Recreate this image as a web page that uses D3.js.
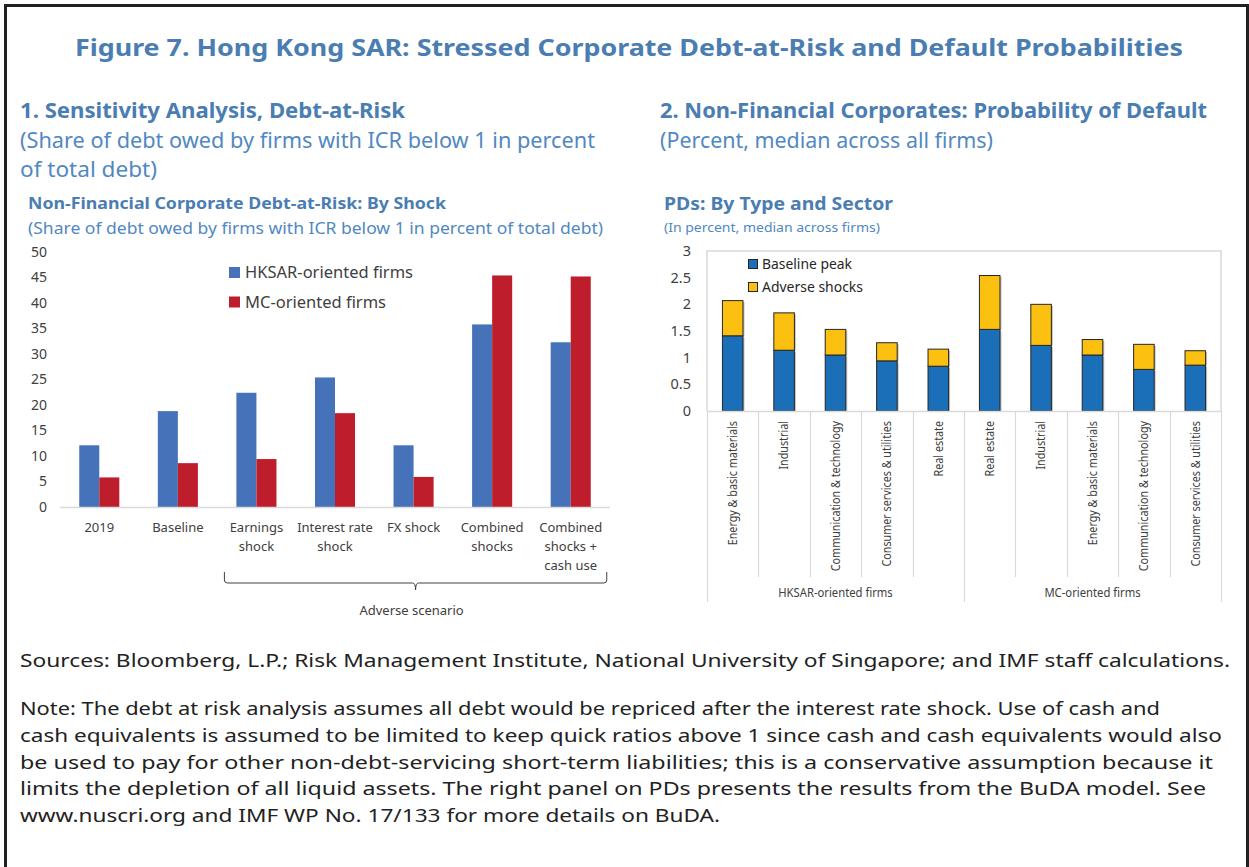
<!DOCTYPE html>
<html>
<head>
<meta charset="utf-8">
<script src="https://cdn.jsdelivr.net/npm/d3@7"></script>
<style>
  body { margin: 0; background: #fff; }
  svg { display: block; font-family: "Noto Sans", "Open Sans", sans-serif; }
</style>
</head>
<body>
<svg id="fig" width="1249" height="867"></svg>
<script>
// ---- data ----
var shockCategories = ['2019', 'Baseline', 'Earnings shock', 'Interest rate shock', 'FX shock', 'Combined shocks', 'Combined shocks + cash use'];
var shockLabels = [['2019'], ['Baseline'], ['Earnings', 'shock'], ['Interest rate', 'shock'], ['FX shock'], ['Combined', 'shocks'], ['Combined', 'shocks +', 'cash use']];
var hksarDebt = [12.1, 18.8, 22.4, 25.4, 12.1, 35.8, 32.3];
var mcDebt = [5.8, 8.6, 9.4, 18.4, 5.9, 45.4, 45.2];
var debtSeries = ['HKSAR-oriented firms', 'MC-oriented firms'];
var debtTicks = [0, 5, 10, 15, 20, 25, 30, 35, 40, 45, 50];

var pdSectors = ['Energy & basic materials', 'Industrial', 'Communication & technology', 'Consumer services & utilities', 'Real estate',
                 'Real estate', 'Industrial', 'Energy & basic materials', 'Communication & technology', 'Consumer services & utilities'];
var pdGroups = ['HKSAR-oriented firms', 'MC-oriented firms'];
var baselinePeak = [1.41, 1.14, 1.05, 0.94, 0.84, 1.53, 1.23, 1.05, 0.78, 0.86];
var adverseShocks = [0.66, 0.70, 0.48, 0.34, 0.32, 1.01, 0.77, 0.29, 0.47, 0.27];
var pdSeries = ['Baseline peak', 'Adverse shocks'];
var pdTicks = [0, 0.5, 1, 1.5, 2, 2.5, 3];

var noteLines = [
  'Note: The debt at risk analysis assumes all debt would be repriced after the interest rate shock. Use of cash and',
  'cash equivalents is assumed to be limited to keep quick ratios above 1 since cash and cash equivalents would also',
  'be used to pay for other non-debt-servicing short-term liabilities; this is a conservative assumption because it',
  'limits the depletion of all liquid assets. The right panel on PDs presents the results from the BuDA model. See',
  'www.nuscri.org and IMF WP No. 17/133 for more details on BuDA.'
];
var noteWidths = [1140, 1202, 1193, 1186, 700];

var titleBlue = '#4a7db2';
var subBlue = '#5188c2';
var axisText = '#404040';

var svg = d3.select('#fig');
svg.append('rect').attr('width', 1249).attr('height', 867).attr('fill', '#fff');

// frame (open at the bottom)
svg.append('path')
    .attr('d', 'M5.5,867 V5.5 H1247.5 V867')
    .attr('fill', 'none').attr('stroke', '#231f20').attr('stroke-width', 3);

function addText(x, y, txt, opts) {
    var t = svg.append('text')
        .attr('x', x).attr('y', y)
        .attr('font-size', opts.size)
        .attr('font-weight', opts.bold ? 'bold' : 'normal')
        .attr('fill', opts.color || '#222')
        .attr('text-anchor', opts.anchor || 'start')
        .text(txt);
    if (opts.width) t.attr('textLength', opts.width).attr('lengthAdjust', 'spacingAndGlyphs');
    return t;
}

// squeeze a label a little, the source font is narrower than Noto Sans
function narrow(sel, k) {
    sel.each(function() {
        var len = this.getComputedTextLength();
        d3.select(this).attr('textLength', len * k).attr('lengthAdjust', 'spacingAndGlyphs');
    });
}

// titles
addText(629, 56, 'Figure 7. Hong Kong SAR: Stressed Corporate Debt-at-Risk and Default Probabilities', {size: 24, bold: true, color: titleBlue, anchor: 'middle', width: 1108});
addText(20, 118, '1. Sensitivity Analysis, Debt-at-Risk', {size: 22, bold: true, color: titleBlue, width: 385});
addText(20, 148, '(Share of debt owed by firms with ICR below 1 in percent', {size: 21, color: subBlue, width: 575});
addText(20, 177, 'of total debt)', {size: 21, color: subBlue, width: 137});
addText(660, 118, '2. Non-Financial Corporates: Probability of Default', {size: 22, bold: true, color: titleBlue, width: 547});
addText(660, 148, '(Percent, median across all firms)', {size: 21, color: subBlue, width: 333});

addText(28, 209, 'Non-Financial Corporate Debt-at-Risk: By Shock', {size: 16.5, bold: true, color: titleBlue, width: 418});
addText(28, 234, '(Share of debt owed by firms with ICR below 1 in percent of total debt)', {size: 15.5, color: subBlue, width: 575});
addText(664, 210, 'PDs: By Type and Sector', {size: 18, bold: true, color: titleBlue, width: 229});
addText(664, 232, '(In percent, median across firms)', {size: 13, color: subBlue, width: 216});

// ---- left chart: debt-at-risk by shock ----
var yL = d3.scaleLinear().domain([0, 50]).range([507, 252]);
var x0 = d3.scaleBand().domain(shockCategories).range([60, 610]).paddingInner(0.49).paddingOuter(0.245);
var x1 = d3.scaleBand().domain(debtSeries).range([0, x0.bandwidth()]);
var debtColor = d3.scaleOrdinal().domain(debtSeries).range(['#4672b9', '#be1e2b']);

var gL = svg.append('g');
gL.append('g')
    .attr('transform', 'translate(60,0)')
    .call(d3.axisLeft(yL).tickValues(debtTicks).tickSize(0).tickPadding(13))
    .call(function(g) { g.select('.domain').remove(); })
    .selectAll('text').attr('font-size', 14).attr('fill', axisText).attr('font-family', '"Noto Sans", sans-serif');

var debtRows = shockCategories.map(function(c, i) {
    return { cat: c, values: [{ s: debtSeries[0], v: hksarDebt[i] }, { s: debtSeries[1], v: mcDebt[i] }] };
});

gL.selectAll('.grp').data(debtRows).enter().append('g')
    .attr('transform', function(d) { return 'translate(' + x0(d.cat) + ',0)'; })
    .selectAll('rect').data(function(d) { return d.values; }).enter().append('rect')
    .attr('x', function(d) { return x1(d.s); })
    .attr('width', x1.bandwidth())
    .attr('y', function(d) { return yL(d.v); })
    .attr('height', function(d) { return yL(0) - yL(d.v); })
    .attr('fill', function(d) { return debtColor(d.s); });

gL.append('line').attr('x1', 60).attr('x2', 610).attr('y1', yL(0) + 0.5).attr('y2', yL(0) + 0.5)
    .attr('stroke', '#d9d9d9').attr('stroke-width', 1.5);

// category labels
shockLabels.forEach(function(lines, i) {
    var cx = x0(shockCategories[i]) + x0.bandwidth() / 2;
    var t = gL.append('text').attr('text-anchor', 'middle').attr('font-size', 13).attr('fill', axisText);
    lines.forEach(function(l, j) {
        t.append('tspan').attr('x', cx).attr('y', 532 + j * 19).text(l);
    });
});

// adverse scenario bracket
var bx0 = x0(shockCategories[2]) - 12, bx1 = x0(shockCategories[6]) + x0.bandwidth() + 16;
var bm = (bx0 + bx1) / 2;
gL.append('path')
    .attr('d', 'M' + bx0 + ',572 V580 Q' + bx0 + ',583 ' + (bx0 + 3) + ',583 H' + (bm - 3) +
        ' Q' + bm + ',583 ' + bm + ',590 Q' + bm + ',583 ' + (bm + 3) + ',583 H' + (bx1 - 3) +
        ' Q' + bx1 + ',583 ' + bx1 + ',580 V572')
    .attr('fill', 'none').attr('stroke', axisText).attr('stroke-width', 1);
gL.append('text').attr('x', bm - 4).attr('y', 615).attr('text-anchor', 'middle')
    .attr('font-size', 13).attr('fill', axisText).text('Adverse scenario');

// legend
debtSeries.forEach(function(s, i) {
    var ly = 267 + i * 29.5;
    gL.append('rect').attr('x', 229).attr('y', ly).attr('width', 11).attr('height', 11).attr('fill', debtColor(s));
    gL.append('text').attr('x', 245).attr('y', ly + 11).attr('font-size', 16.5).attr('fill', axisText)
        .attr('textLength', i === 0 ? 168 : 141).attr('lengthAdjust', 'spacingAndGlyphs').text(s);
});

// ---- right chart: PDs by type and sector ----
var idx = d3.range(pdSectors.length);
var xR = d3.scaleBand().domain(idx).range([707, 1221]).paddingInner(0.6).paddingOuter(0.3);
var yR = d3.scaleLinear().domain([0, 3]).range([411, 251]);
var pdColor = d3.scaleOrdinal().domain(pdSeries).range(['#1b6fb8', '#fcc010']);

var gR = svg.append('g');
// plot frame
gR.append('path').attr('d', 'M707,411 V251 H1221 V411')
    .attr('fill', 'none').attr('stroke', '#d9d9d9').attr('stroke-width', 1.5);

gR.append('g')
    .attr('transform', 'translate(707,0)')
    .call(d3.axisLeft(yR).tickValues(pdTicks).tickFormat(function(d) { return d; }).tickSize(0).tickPadding(16))
    .call(function(g) { g.select('.domain').remove(); })
    .selectAll('text').attr('font-size', 14.5).attr('fill', axisText).attr('font-family', '"Noto Sans", sans-serif');

var stacked = d3.stack().keys(pdSeries)(idx.map(function(i) {
    return { i: i, 'Baseline peak': baselinePeak[i], 'Adverse shocks': adverseShocks[i] };
}));

stacked.forEach(function(layer) {
    // soft shadow
    gR.selectAll(null).data(layer).enter().append('rect')
        .attr('x', function(d) { return xR(d.data.i) + 1.5; })
        .attr('y', function(d) { return yR(d[1]) + 1.5; })
        .attr('width', xR.bandwidth())
        .attr('height', function(d) { return yR(d[0]) - yR(d[1]) - 1.5; })
        .attr('fill', '#9a9a9a').attr('opacity', 0.6);
});
stacked.forEach(function(layer) {
    gR.selectAll(null).data(layer).enter().append('rect')
        .attr('x', function(d) { return xR(d.data.i); })
        .attr('y', function(d) { return yR(d[1]); })
        .attr('width', xR.bandwidth())
        .attr('height', function(d) { return yR(d[0]) - yR(d[1]); })
        .attr('fill', pdColor(layer.key))
        .attr('stroke', '#262626').attr('stroke-width', 1);
});

// x axis line and separators
gR.append('line').attr('x1', 707).attr('x2', 1221).attr('y1', 411.5).attr('y2', 411.5)
    .attr('stroke', '#d9d9d9').attr('stroke-width', 1.5);
var step = xR.step();
d3.range(pdSectors.length + 1).forEach(function(k) {
    var sx = Math.round(707 + k * step) + 0.5;
    var isGroupEdge = (k === 0 || k === 5 || k === pdSectors.length);
    gR.append('line').attr('x1', sx).attr('x2', sx).attr('y1', 411).attr('y2', isGroupEdge ? 602 : 577)
        .attr('stroke', '#d9d9d9').attr('stroke-width', 1.2);
});

// rotated sector labels
pdSectors.forEach(function(s, i) {
    var cx = xR(i) + xR.bandwidth() / 2;
    gR.append('text')
        .attr('transform', 'translate(' + cx + ',421) rotate(-90)')
        .attr('dy', '0.35em')
        .attr('text-anchor', 'end')
        .attr('font-size', 12.5).attr('fill', axisText)
        .text(s)
        .call(narrow, 0.86);
});

// group labels
pdGroups.forEach(function(g, j) {
    var gx = 707 + (j * 5 + 2.5) * step;
    gR.append('text').attr('x', gx).attr('y', 597).attr('text-anchor', 'middle')
        .attr('font-size', 12.5).attr('fill', axisText).text(g)
        .call(narrow, 0.9);
});

// legend
pdSeries.forEach(function(s, i) {
    var ly = 259 + i * 23;
    gR.append('rect').attr('x', 748.5).attr('y', ly + 0.5).attr('width', 9).attr('height', 9)
        .attr('fill', pdColor(s)).attr('stroke', '#262626').attr('stroke-width', 1);
    gR.append('text').attr('x', 762).attr('y', ly + 10).attr('font-size', 14.5).attr('fill', '#262626')
        .attr('textLength', i === 0 ? 90 : 101).attr('lengthAdjust', 'spacingAndGlyphs').text(s);
});

// ---- sources and notes ----
addText(20, 667, 'Sources: Bloomberg, L.P.;  Risk Management Institute, National University of Singapore; and IMF staff calculations.', {size: 18, color: '#222', width: 1210});
noteLines.forEach(function(l, i) {
    addText(20, 715 + i * 26.8, l, {size: 18, color: '#222', width: noteWidths[i]});
});
</script>
</body>
</html>
